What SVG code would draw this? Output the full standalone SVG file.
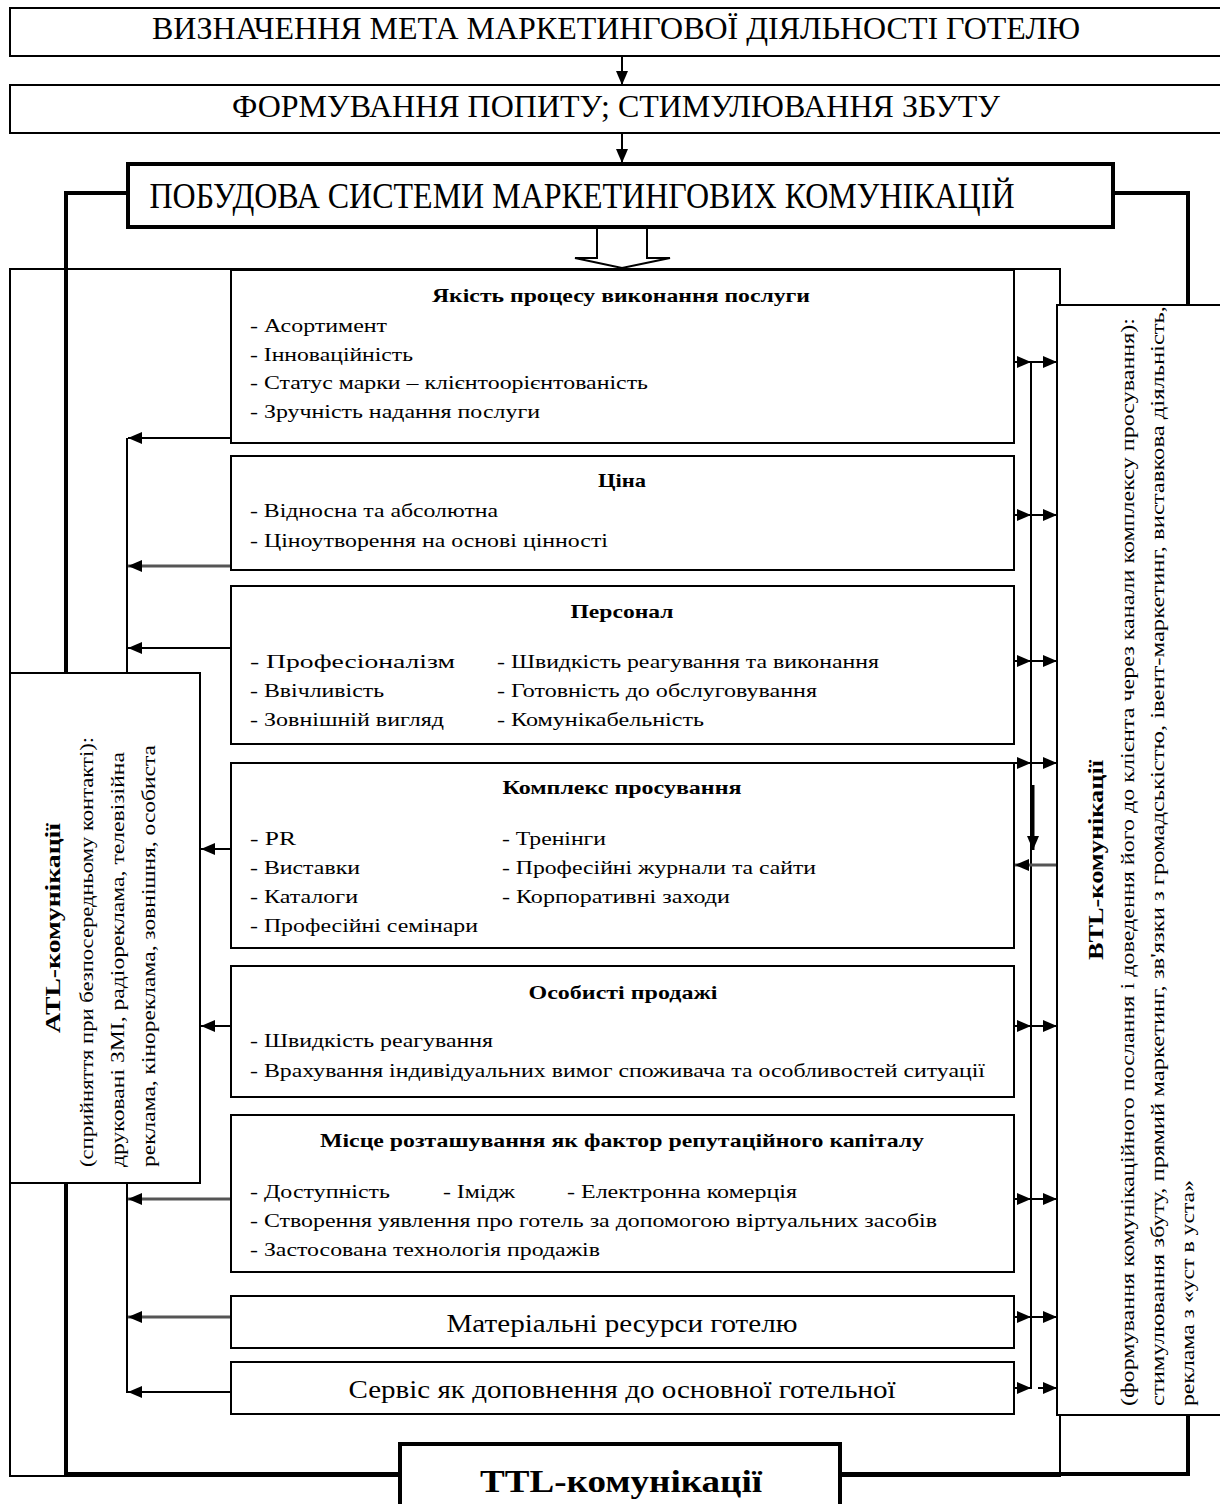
<svg xmlns="http://www.w3.org/2000/svg" width="1220" height="1504" viewBox="0 0 1220 1504">
<style>
.box{fill:#fff;stroke:#000;stroke-width:2}
.tbox{fill:#fff;stroke:#000;stroke-width:4}
.thick{fill:none;stroke:#000;stroke-width:4}
.ln{fill:none;stroke:#000;stroke-width:2}
.gr{fill:none;stroke:#555;stroke-width:3}
text{font-family:"Liberation Serif","Times New Roman",serif;fill:#000}
.h{font-size:32px}
.h3{font-size:36px}
.t{font-size:19px}
.ti{font-size:19px;font-weight:bold}
.big{font-size:26px}
.v{font-size:18px}
.vb{font-size:20px;font-weight:bold}
.ttl{font-size:32px;font-weight:bold}
</style>
<defs>
<marker id="ah" markerUnits="userSpaceOnUse" markerWidth="14" markerHeight="12" refX="14" refY="6" orient="auto">
<path d="M0,0 L14,6 L0,12 z" fill="#000"/>
</marker>
</defs>

<!-- outer frame and thick TTL loop -->
<g id="frame">
<rect x="10" y="269" width="1050" height="1207" fill="none" stroke="#000" stroke-width="2"/>
<path class="thick" d="M128,193 H66 V1474 H400"/>
<path class="thick" d="M1113,193 H1188 V1474 H840"/>
</g>

<g id="connectors">
<line class="ln" x1="622" y1="56" x2="622" y2="85" marker-end="url(#ah)"/>
<line class="ln" x1="622" y1="133" x2="622" y2="163" marker-end="url(#ah)"/>
<path d="M597,228 V258 H575 L622,268 L670,258 H647 V228" fill="#fff" stroke="#000" stroke-width="2"/>
<!-- left bus -->
<line class="ln" x1="127" y1="438" x2="127" y2="1393"/>
<line class="ln" x1="231" y1="438" x2="128" y2="438" marker-end="url(#ah)"/>
<line class="gr" x1="231" y1="566" x2="128" y2="566" marker-end="url(#ah)"/>
<line class="ln" x1="231" y1="648" x2="128" y2="648" marker-end="url(#ah)"/>
<line class="ln" x1="231" y1="849" x2="201" y2="849" marker-end="url(#ah)"/>
<line class="ln" x1="231" y1="1026" x2="201" y2="1026" marker-end="url(#ah)"/>
<line class="gr" x1="231" y1="1199" x2="128" y2="1199" marker-end="url(#ah)"/>
<line class="gr" x1="231" y1="1317" x2="128" y2="1317" marker-end="url(#ah)"/>
<line class="ln" x1="231" y1="1392" x2="128" y2="1392" marker-end="url(#ah)"/>
<!-- right bus -->
<line class="ln" x1="1031" y1="362" x2="1031" y2="1389"/>
<line class="ln" x1="1014" y1="362" x2="1031" y2="362" marker-end="url(#ah)"/>
<line class="ln" x1="1031" y1="362" x2="1057" y2="362" marker-end="url(#ah)"/>
<line class="ln" x1="1014" y1="515" x2="1031" y2="515" marker-end="url(#ah)"/>
<line class="ln" x1="1031" y1="515" x2="1057" y2="515" marker-end="url(#ah)"/>
<line class="ln" x1="1014" y1="661" x2="1031" y2="661" marker-end="url(#ah)"/>
<line class="ln" x1="1031" y1="661" x2="1057" y2="661" marker-end="url(#ah)"/>
<line class="ln" x1="1014" y1="763" x2="1031" y2="763" marker-end="url(#ah)"/>
<line class="ln" x1="1031" y1="763" x2="1057" y2="763" marker-end="url(#ah)"/>
<line x1="1033" y1="785" x2="1033" y2="850" stroke="#000" stroke-width="3" marker-end="url(#ah)"/>
<line class="gr" x1="1057" y1="865" x2="1015" y2="865" marker-end="url(#ah)"/>
<line class="ln" x1="1014" y1="1026" x2="1031" y2="1026" marker-end="url(#ah)"/>
<line class="ln" x1="1031" y1="1026" x2="1057" y2="1026" marker-end="url(#ah)"/>
<line class="ln" x1="1014" y1="1199" x2="1031" y2="1199" marker-end="url(#ah)"/>
<line class="ln" x1="1031" y1="1199" x2="1057" y2="1199" marker-end="url(#ah)"/>
<line class="ln" x1="1014" y1="1317" x2="1031" y2="1317" marker-end="url(#ah)"/>
<line class="ln" x1="1031" y1="1317" x2="1057" y2="1317" marker-end="url(#ah)"/>
<line class="ln" x1="1014" y1="1388" x2="1031" y2="1388" marker-end="url(#ah)"/>
<line class="ln" x1="1038" y1="1388" x2="1057" y2="1388" marker-end="url(#ah)"/>
</g>

<g id="goal">
<rect class="box" x="10" y="8" width="1220" height="48"/>
<text class="h" x="616" y="39" text-anchor="middle" textLength="928" lengthAdjust="spacingAndGlyphs">ВИЗНАЧЕННЯ МЕТА МАРКЕТИНГОВОЇ ДІЯЛЬНОСТІ ГОТЕЛЮ</text>
</g>
<g id="demand">
<rect class="box" x="10" y="85" width="1220" height="48"/>
<text class="h" x="616" y="117" text-anchor="middle" textLength="768" lengthAdjust="spacingAndGlyphs">ФОРМУВАННЯ ПОПИТУ; СТИМУЛЮВАННЯ ЗБУТУ</text>
</g>
<g id="system">
<rect class="tbox" x="128" y="164" width="985" height="63"/>
<text class="h3" x="582" y="208" text-anchor="middle" textLength="865" lengthAdjust="spacingAndGlyphs">ПОБУДОВА СИСТЕМИ МАРКЕТИНГОВИХ КОМУНІКАЦІЙ</text>
</g>

<g id="quality">
<rect class="box" x="231" y="270" width="783" height="173"/>
<text class="ti" x="621" y="302" text-anchor="middle" textLength="378" lengthAdjust="spacingAndGlyphs">Якість процесу виконання послуги</text>
<text class="t" x="250" y="332" textLength="137" lengthAdjust="spacingAndGlyphs">- Асортимент</text>
<text class="t" x="250" y="361" textLength="163" lengthAdjust="spacingAndGlyphs">- Інноваційність</text>
<text class="t" x="250" y="389" textLength="398" lengthAdjust="spacingAndGlyphs">- Статус марки – клієнтоорієнтованість</text>
<text class="t" x="250" y="418" textLength="290" lengthAdjust="spacingAndGlyphs">- Зручність надання послуги</text>
</g>
<g id="price">
<rect class="box" x="231" y="456" width="783" height="114"/>
<text class="ti" x="622" y="487" text-anchor="middle" textLength="48" lengthAdjust="spacingAndGlyphs">Ціна</text>
<text class="t" x="250" y="517" textLength="248" lengthAdjust="spacingAndGlyphs">- Відносна та абсолютна</text>
<text class="t" x="250" y="547" textLength="358" lengthAdjust="spacingAndGlyphs">- Ціноутворення на основі цінності</text>
</g>
<g id="staff">
<rect class="box" x="231" y="586" width="783" height="158"/>
<text class="ti" x="622" y="618" text-anchor="middle" textLength="103" lengthAdjust="spacingAndGlyphs">Персонал</text>
<text class="t" x="250" y="668" textLength="205" lengthAdjust="spacingAndGlyphs">- Професіоналізм</text>
<text class="t" x="250" y="697" textLength="134" lengthAdjust="spacingAndGlyphs">- Ввічливість</text>
<text class="t" x="250" y="726" textLength="194" lengthAdjust="spacingAndGlyphs">- Зовнішній вигляд</text>
<text class="t" x="497" y="668" textLength="382" lengthAdjust="spacingAndGlyphs">- Швидкість реагування та виконання</text>
<text class="t" x="497" y="697" textLength="320" lengthAdjust="spacingAndGlyphs">- Готовність до обслуговування</text>
<text class="t" x="497" y="726" textLength="207" lengthAdjust="spacingAndGlyphs">- Комунікабельність</text>
</g>
<g id="promotion">
<rect class="box" x="231" y="763" width="783" height="185"/>
<text class="ti" x="622" y="794" text-anchor="middle" textLength="239" lengthAdjust="spacingAndGlyphs">Комплекс просування</text>
<text class="t" x="250" y="845" textLength="46" lengthAdjust="spacingAndGlyphs">- PR</text>
<text class="t" x="250" y="874" textLength="110" lengthAdjust="spacingAndGlyphs">- Виставки</text>
<text class="t" x="250" y="903" textLength="108" lengthAdjust="spacingAndGlyphs">- Каталоги</text>
<text class="t" x="250" y="932" textLength="228" lengthAdjust="spacingAndGlyphs">- Професійні семінари</text>
<text class="t" x="502" y="845" textLength="104" lengthAdjust="spacingAndGlyphs">- Тренінги</text>
<text class="t" x="502" y="874" textLength="314" lengthAdjust="spacingAndGlyphs">- Професійні журнали та сайти</text>
<text class="t" x="502" y="903" textLength="228" lengthAdjust="spacingAndGlyphs">- Корпоративні заходи</text>
</g>
<g id="sales">
<rect class="box" x="231" y="966" width="783" height="131"/>
<text class="ti" x="623" y="999" text-anchor="middle" textLength="189" lengthAdjust="spacingAndGlyphs">Особисті продажі</text>
<text class="t" x="250" y="1047" textLength="243" lengthAdjust="spacingAndGlyphs">- Швидкість реагування</text>
<text class="t" x="250" y="1077" textLength="735" lengthAdjust="spacingAndGlyphs">- Врахування індивідуальних вимог споживача та особливостей ситуації</text>
</g>
<g id="location">
<rect class="box" x="231" y="1115" width="783" height="157"/>
<text class="ti" x="622" y="1147" text-anchor="middle" textLength="604" lengthAdjust="spacingAndGlyphs">Місце розташування як фактор репутаційного капіталу</text>
<text class="t" x="250" y="1198" textLength="140" lengthAdjust="spacingAndGlyphs">- Доступність</text>
<text class="t" x="443" y="1198" textLength="72" lengthAdjust="spacingAndGlyphs">- Імідж</text>
<text class="t" x="567" y="1198" textLength="230" lengthAdjust="spacingAndGlyphs">- Електронна комерція</text>
<text class="t" x="250" y="1227" textLength="687" lengthAdjust="spacingAndGlyphs">- Створення уявлення про готель за допомогою віртуальних засобів</text>
<text class="t" x="250" y="1256" textLength="350" lengthAdjust="spacingAndGlyphs">- Застосована технологія продажів</text>
</g>
<g id="resources">
<rect class="box" x="231" y="1296" width="783" height="52"/>
<text class="big" x="622" y="1332" text-anchor="middle" textLength="351" lengthAdjust="spacingAndGlyphs">Матеріальні ресурси готелю</text>
</g>
<g id="service">
<rect class="box" x="231" y="1362" width="783" height="52"/>
<text class="big" x="622" y="1398" text-anchor="middle" textLength="547" lengthAdjust="spacingAndGlyphs">Сервіс як доповнення до основної готельної</text>
</g>

<g id="atl">
<rect class="box" x="10" y="673" width="190" height="510"/>
<text class="vb" transform="translate(60,928) rotate(-90)" text-anchor="middle" textLength="210" lengthAdjust="spacingAndGlyphs">ATL-комунікації</text>
<text class="v" transform="translate(93,1167) rotate(-90)" textLength="430" lengthAdjust="spacingAndGlyphs">(сприйняття при безпосередньому контакті):</text>
<text class="v" transform="translate(124,1167) rotate(-90)" textLength="415" lengthAdjust="spacingAndGlyphs">друковані ЗМІ, радіореклама, телевізійна</text>
<text class="v" transform="translate(155,1167) rotate(-90)" textLength="422" lengthAdjust="spacingAndGlyphs">реклама, кінореклама, зовнішня, особиста</text>
</g>

<g id="btl">
<rect class="box" x="1057" y="305" width="180" height="1110"/>
<text class="vb" transform="translate(1103,860) rotate(-90)" text-anchor="middle" textLength="200" lengthAdjust="spacingAndGlyphs">BTL-комунікації</text>
<text class="v" transform="translate(1134,1406) rotate(-90)" textLength="1088" lengthAdjust="spacingAndGlyphs">(формування комунікаційного послання і доведення його до клієнта через канали комплексу просування):</text>
<text class="v" transform="translate(1164,1406) rotate(-90)" textLength="1100" lengthAdjust="spacingAndGlyphs">стимулювання збуту, прямий маркетинг, зв'язки з громадськістю, івент-маркетинг, виставкова діяльність,</text>
<text class="v" transform="translate(1194,1406) rotate(-90)" textLength="226" lengthAdjust="spacingAndGlyphs">реклама з «уст в уста»</text>
</g>

<g id="ttl">
<rect class="tbox" x="400" y="1444" width="440" height="70"/>
<text class="ttl" x="621" y="1492" text-anchor="middle" textLength="282" lengthAdjust="spacingAndGlyphs">TTL-комунікації</text>
</g>
</svg>
